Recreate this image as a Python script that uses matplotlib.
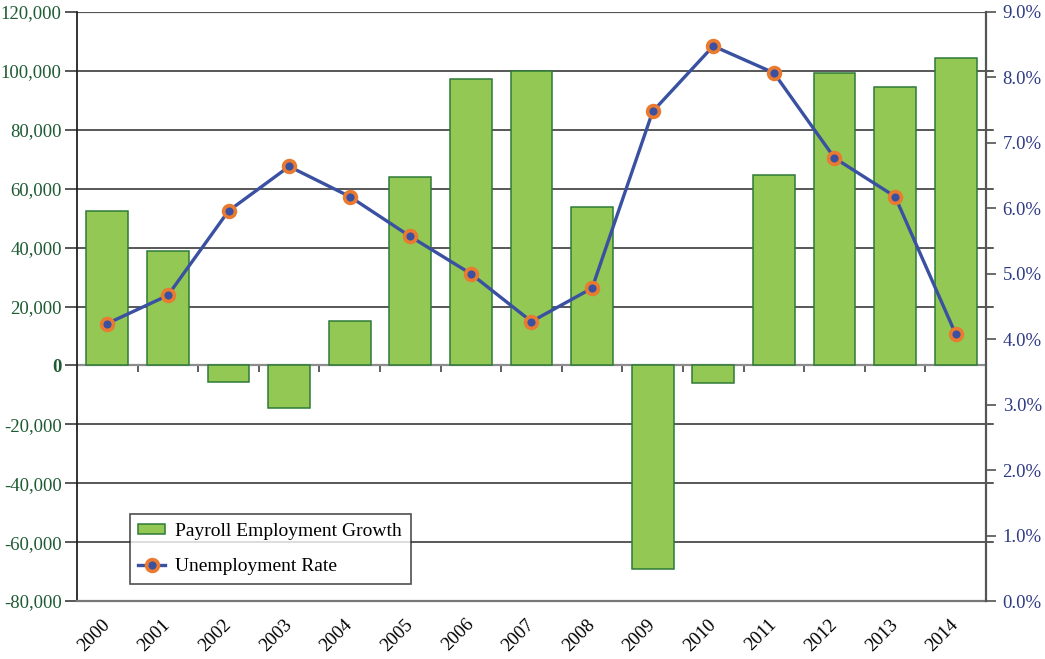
import matplotlib
matplotlib.use("Agg")
import matplotlib.pyplot as plt
from matplotlib.ticker import FuncFormatter, FixedLocator
from matplotlib.lines import Line2D
from matplotlib.patches import Patch

years = ["2000", "2001", "2002", "2003", "2004", "2005", "2006", "2007",
         "2008", "2009", "2010", "2011", "2012", "2013", "2014"]
payroll_growth = [52500, 39000, -5600, -14600, 15100, 64100, 97400, 100000,
                  53700, -69000, -6000, 64800, 99300, 94500, 104300]
unemployment_rate = [4.24, 4.67, 5.96, 6.64, 6.18, 5.57, 5.00, 4.27,
                     4.78, 7.48, 8.48, 8.07, 6.77, 6.18, 4.08]
left_ticks = [-80000, -60000, -40000, -20000, 0, 20000, 40000, 60000,
              80000, 100000, 120000]
right_ticks = [0, 1, 2, 3, 4, 5, 6, 7, 8, 9]

plt.rcParams['font.family'] = ['Liberation Serif', 'DejaVu Serif']

fig = plt.figure(figsize=(10.45, 6.59), dpi=100)
ax = fig.add_axes([0.0737, 0.088, 0.8698, 0.8938])

x = list(range(len(years)))
bar_color = "#92c853"
bar_edge = "#2f7a3a"
line_color = "#3a51a2"
marker_edge = "#ea7a30"
left_color = "#1e5b33"
right_color = "#2f3a85"

ax.set_xlim(-0.5, len(years) - 0.5)
ax.set_ylim(-80000, 120000)

# gridlines (extend slightly beyond the axes like the original)
for v in left_ticks:
    if v == 0:
        ax.axhline(v, xmin=0, xmax=1.0, color="#8c8c8c", lw=1.6, zorder=1)
    elif v in (-80000, 120000):
        continue
    else:
        ax.axhline(v, xmin=0, xmax=1.008, color="#2a2a2a", lw=1.1, zorder=1,
                   clip_on=False)
ax.axhline(120000, xmin=0, xmax=1.0, color="#555555", lw=1.6, zorder=1)

ax.bar(x, payroll_growth, width=0.69, color=bar_color, edgecolor=bar_edge,
       linewidth=1.1, zorder=2)

ax.yaxis.set_major_locator(FixedLocator(left_ticks))
ax.yaxis.set_major_formatter(FuncFormatter(lambda v, p: f"{int(v):,}"))
ax.tick_params(axis='y', direction='out', length=9, width=1.1,
               color="#2a2a2a", labelsize=13.5, labelcolor=left_color, pad=2)
for lab in ax.get_yticklabels():
    if lab.get_text() == "0":
        lab.set_fontweight("bold")

ax.set_xticks(x)
ax.set_xticklabels(years, rotation=45, ha='right', va='center',
                   rotation_mode='anchor', fontsize=13.5)
ax.tick_params(axis='x', length=0, pad=15)

for s in ["top", "right"]:
    ax.spines[s].set_visible(False)
ax.spines["left"].set_color("#222222")
ax.spines["left"].set_linewidth(1.3)
ax.spines["bottom"].set_color("#777777")
ax.spines["bottom"].set_linewidth(1.6)

# category boundary ticks on the zero line
sec = ax.secondary_xaxis(0.4)
sec.set_xticks([i + 0.5 for i in x[:-1]])
sec.set_xticklabels([])
sec.tick_params(axis='x', direction='out', length=5, width=1.1, color="#333333")
sec.spines["bottom"].set_visible(False)

ax2 = ax.twinx()
ax2.set_ylim(0, 9)
ax2.plot(x, unemployment_rate, color=line_color, lw=2.4, marker='o',
         markersize=8.5, markerfacecolor=line_color, markeredgecolor=marker_edge,
         markeredgewidth=2.6, zorder=3)
ax2.yaxis.set_major_locator(FixedLocator(right_ticks))
ax2.yaxis.set_major_formatter(FuncFormatter(lambda v, p: f"{v:.1f}%"))
ax2.tick_params(axis='y', direction='out', length=7, width=1.1,
                color="#444444", labelsize=13.5, labelcolor=right_color, pad=5)
for s in ["top", "left", "bottom"]:
    ax2.spines[s].set_visible(False)
ax2.spines["right"].set_color("#555555")
ax2.spines["right"].set_linewidth(1.6)

handles = [Patch(facecolor=bar_color, edgecolor=bar_edge, linewidth=1.1),
           Line2D([0], [0], color=line_color, lw=2.4, marker='o', markersize=8.5,
                  markerfacecolor=line_color, markeredgecolor=marker_edge,
                  markeredgewidth=2.6)]
leg = ax2.legend(handles, ["Payroll Employment Growth", "Unemployment Rate"],
                 loc='lower left', bbox_to_anchor=(0.058, 0.029),
                 borderaxespad=0, fontsize=14, frameon=True, fancybox=False,
                 edgecolor="#222222", handlelength=1.35, handleheight=0.4,
                 handletextpad=0.55, borderpad=0.45, labelspacing=0.95)
leg.get_frame().set_linewidth(1.2)

fig.savefig("out.png", dpi=100)
